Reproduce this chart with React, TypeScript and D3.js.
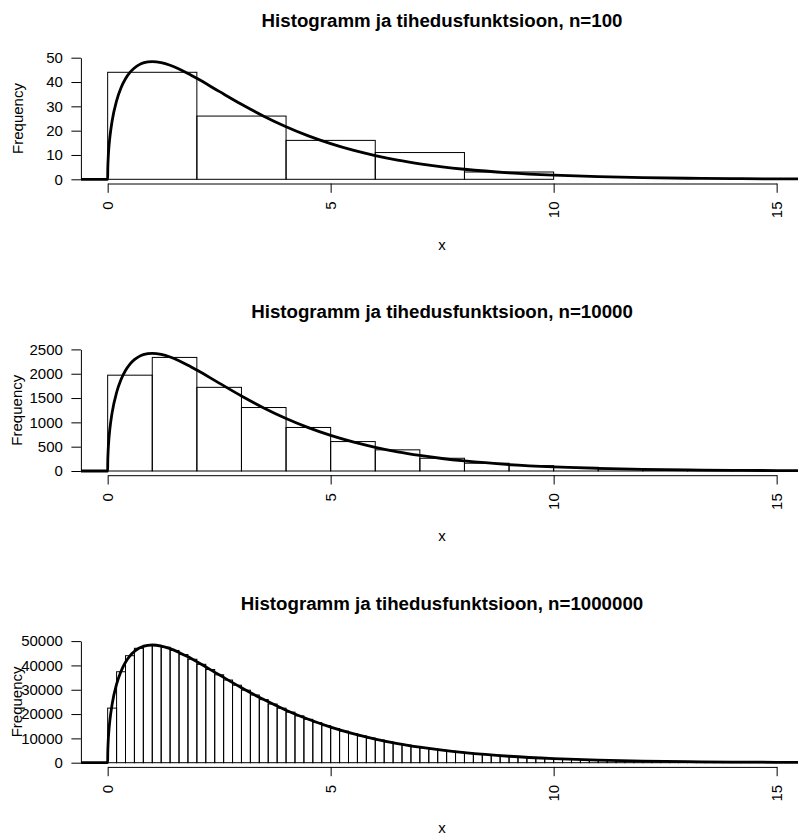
import React, { useEffect, useRef } from 'react';
import * as d3 from 'd3';

// sample sizes and histogram bin widths of the three panels
const sampleSizes = [100, 10000, 1000000];
const binWidths = [2, 1, 0.2];

// bar counts (bins start at 0)
const counts100 = [44, 26, 16, 11, 3];
const counts10000 = [1970, 2335, 1720, 1305, 895, 605, 435, 262, 160, 110, 76, 43, 27, 17, 11];
const counts1000000 = [
  22450, 37400, 44000, 47040, 48260, 48280, 47490, 46160, 44460, 42530,
  40460, 38310, 36140, 33990, 31870, 29820, 27840, 25940, 24130, 22420,
  20800, 19270, 17840, 16500, 15240, 14070, 12980, 11960, 11020, 10140,
  9330, 8580, 7890, 7250, 6650, 6110, 5600, 5140, 4710, 4320,
  3960, 3620, 3320, 3040, 2780, 2540, 2330, 2130, 1950, 1780,
  1630, 1490, 1360, 1240, 1130, 1030, 940, 860, 790, 720,
  650, 600, 540, 500, 450, 410, 380, 340, 310, 290,
  260, 240, 220, 200, 180,
];
const allCounts = [counts100, counts10000, counts1000000];

const yTicks100 = [0, 10, 20, 30, 40, 50];
const yTicks10000 = [0, 500, 1000, 1500, 2000, 2500];
const yTicks1000000 = [0, 10000, 20000, 30000, 40000, 50000];
const allYTicks = [yTicks100, yTicks10000, yTicks1000000];

const xTicks = [0, 5, 10, 15];

// density curve, read as points (x, density)
const curveX = [
  -0.6, 0, 0.002, 0.01, 0.03, 0.05, 0.1, 0.2, 0.3, 0.4, 0.5, 0.6, 0.7, 0.8, 0.9, 1.0,
  1.2, 1.4, 1.6, 1.8, 2.0, 2.5, 3, 3.5, 4, 4.5, 5, 5.5, 6, 6.5, 7, 7.5, 8, 9, 10, 11,
  12, 13, 14, 15, 15.6,
];
const curveDensity = [
  0, 0, 0.0178, 0.0397, 0.0681, 0.087, 0.12, 0.1614, 0.1881, 0.2066, 0.2197, 0.2289,
  0.2352, 0.2392, 0.2413, 0.242, 0.2398, 0.2344, 0.2267, 0.2176, 0.2076, 0.1807, 0.1542,
  0.1297, 0.108, 0.0892, 0.0732, 0.0598, 0.0487, 0.0394, 0.0319, 0.0257, 0.0207, 0.0133,
  0.0085, 0.0054, 0.0034, 0.00216, 0.00136, 0.00085, 0.00063,
];

const font = '"Liberation Sans", Arial, Helvetica, sans-serif';

const App = () => {
  const svgRef = useRef<SVGSVGElement | null>(null);

  useEffect(() => {
    const width = 798;
    const height = 835;
    const panelStep = 291.7;

    const svg = d3.select(svgRef.current)
      .attr('width', width)
      .attr('height', height)
      .style('background', '#ffffff');
    svg.selectAll('*').remove();

    const xScale = d3.scaleLinear().domain([-0.6, 15.6]).range([80.9, 803.4]);
    const xAxisScale = d3.scaleLinear().domain([0, 15]).range([xScale(0), xScale(15)]);

    sampleSizes.forEach((n, k) => {
      const top = k * panelStep;
      const ticks = allYTicks[k];
      const yMax = ticks[ticks.length - 1];
      const w = binWidths[k];
      const counts = allCounts[k];

      const yScale = d3.scaleLinear()
        .domain([0, yMax])
        .range([179.3 + top, 57.7 + top]);

      const g = svg.append('g');

      g.append('clipPath')
        .attr('id', `clip${k}`)
        .append('rect')
        .attr('x', xScale(-0.6))
        .attr('y', yScale(yMax * 1.04))
        .attr('width', xScale(15.6) - xScale(-0.6))
        .attr('height', yScale(-yMax * 0.04) - yScale(yMax * 1.04));

      const plot = g.append('g').attr('clip-path', `url(#clip${k})`);

      plot.selectAll('rect.bar')
        .data(counts)
        .enter().append('rect')
        .attr('class', 'bar')
        .attr('x', (d, i) => xScale(i * w))
        .attr('width', xScale(w) - xScale(0))
        .attr('y', d => yScale(d))
        .attr('height', d => yScale(0) - yScale(d))
        .attr('fill', 'none')
        .attr('stroke', '#000')
        .attr('stroke-width', 1);

      const line = d3.line<number>()
        .x((d, i) => xScale(curveX[i]))
        .y(d => yScale(d * n * w))
        .curve(d3.curveMonotoneX);

      plot.append('path')
        .datum(curveDensity)
        .attr('fill', 'none')
        .attr('stroke', '#000')
        .attr('stroke-width', 2.8)
        .attr('stroke-linejoin', 'round')
        .attr('d', line);

      // y axis
      const yAxis = d3.axisLeft(yScale)
        .tickValues(ticks)
        .tickSize(9.5)
        .tickSizeOuter(0)
        .tickPadding(8.5)
        .tickFormat(d => String(d));
      const ya = g.append('g')
        .attr('transform', `translate(${xScale(-0.6)},0)`)
        .call(yAxis);
      ya.selectAll('path, line').attr('stroke', '#000').attr('stroke-width', 1);
      ya.selectAll('text')
        .attr('fill', '#000')
        .style('font-family', font)
        .style('font-size', '15px');

      // x axis
      const xAxis = d3.axisBottom(xAxisScale)
        .tickValues(xTicks)
        .tickSize(9.3)
        .tickSizeOuter(0)
        .tickFormat(() => '');
      const xa = g.append('g')
        .attr('transform', `translate(0,${183.5 + top})`)
        .call(xAxis);
      xa.selectAll('path, line').attr('stroke', '#000').attr('stroke-width', 1);

      g.selectAll('text.xtick')
        .data(xTicks)
        .enter().append('text')
        .attr('class', 'xtick')
        .attr('x', d => xScale(d))
        .attr('y', 201.5 + top)
        .attr('transform', d => `rotate(-90,${xScale(d)},${201.5 + top})`)
        .attr('text-anchor', 'end')
        .attr('dominant-baseline', 'central')
        .style('font-family', font)
        .style('font-size', '15px')
        .text(d => String(d));

      // labels
      g.append('text')
        .attr('x', 442)
        .attr('y', 26.7 + top)
        .attr('text-anchor', 'middle')
        .style('font-family', font)
        .style('font-size', '18.7px')
        .style('font-weight', 'bold')
        .text(`Histogramm ja tihedusfunktsioon, n=${n}`);

      g.append('text')
        .attr('x', 442)
        .attr('y', 249.5 + top)
        .attr('text-anchor', 'middle')
        .style('font-family', font)
        .style('font-size', '15px')
        .text('x');

      g.append('text')
        .attr('x', 22.5)
        .attr('y', 118.5 + top)
        .attr('transform', `rotate(-90,22.5,${118.5 + top})`)
        .attr('text-anchor', 'middle')
        .style('font-family', font)
        .style('font-size', '15px')
        .text('Frequency');
    });
  }, []);

  return (
    <svg ref={svgRef} style={{ position: 'absolute', left: 0, top: 0 }}></svg>
  );
};

export default App;
